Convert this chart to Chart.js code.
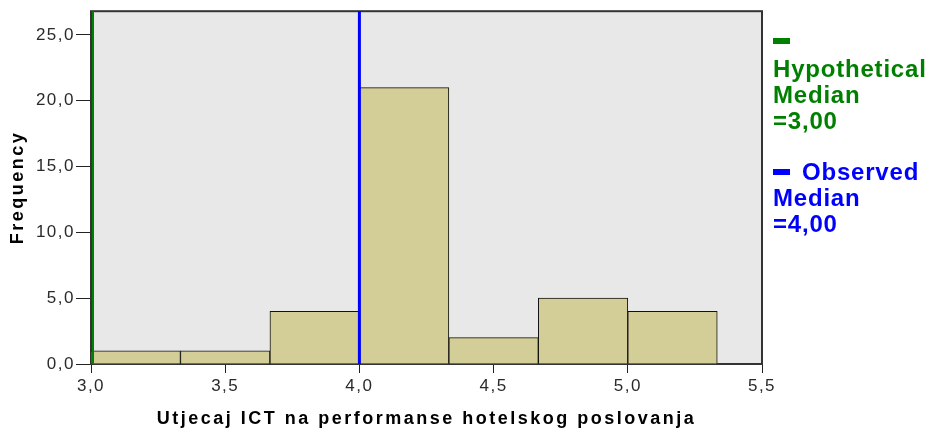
<!DOCTYPE html>
<html>
<head>
<meta charset="utf-8">
<script src="https://cdn.jsdelivr.net/npm/chart.js@4"></script>
<style>
  html, body { margin: 0; padding: 0; background: #ffffff; }
  #wrap { position: relative; width: 932px; height: 432px; }
  #chart { position: absolute; left: 0; top: 0; }
  #legend { position: absolute; left: 773px; top: 30px; font-family: 'Liberation Sans', Arial, sans-serif; font-weight: bold; font-size: 24px; line-height: 26px; letter-spacing: 0.8px; white-space: nowrap; }
  .item { margin-bottom: 25px; }
  .line { height: 26px; }
  .sw { display: inline-block; width: 17px; height: 6px; vertical-align: middle; position: relative; }
</style>
</head>
<body>
<div id="wrap">
  <canvas id="chart" width="932" height="432"></canvas>
  <div id="legend"></div>
</div>
<script>
// ---- data ----
const binEdges = [3.0, 3.3333, 3.6667, 4.0, 4.3333, 4.6667, 5.0, 5.3333];
const frequencies = [1, 1, 4, 21, 2, 5, 4];
const xTicks = [3.0, 3.5, 4.0, 4.5, 5.0, 5.5];
const yTicks = [0, 5, 10, 15, 20, 25];
const yAxisMax = 26.8;
const medianNames = ['Hypothetical Median', 'Observed Median'];
const medianValues = [3.0, 4.0];
const medianColors = ['#008000', '#0000ff'];
const xTitle = 'Utjecaj ICT na performanse hotelskog poslovanja';
const yTitle = 'Frequency';

const fmt = v => v.toFixed(1).replace('.', ',');

const barData = frequencies.map((f, i) => ({ x: (binEdges[i] + binEdges[i + 1]) / 2, y: f }));

const framePlugin = {
  id: 'frame',
  beforeDraw(chart) {
    const { ctx, chartArea: a } = chart;
    ctx.save();
    ctx.fillStyle = '#e8e8e8';
    ctx.fillRect(a.left, a.top, a.right - a.left, a.bottom - a.top);
    ctx.restore();
    // wider bold axis titles (drawn in the grid layer, before datasets)
    ctx.letterSpacing = '2.5px';
  },
  beforeDatasetsDraw(chart) {
    const { ctx, chartArea: a } = chart;
    ctx.letterSpacing = '0px';
    ctx.save();
    ctx.strokeStyle = '#333333';
    ctx.lineWidth = 2;
    ctx.strokeRect(a.left, a.top, a.right - a.left, a.bottom - a.top);
    ctx.restore();
  },
  afterDatasetsDraw(chart) {
    const { ctx, scales } = chart;
    const yTop = scales.y.getPixelForValue(yAxisMax);
    const yBot = scales.y.getPixelForValue(0);
    medianValues.forEach((m, i) => {
      const w = i === 0 ? 2 : 3;
      // hypothetical median sits on the axis line; SPSS draws it just inside the frame
      const x = scales.x.getPixelForValue(m) + (i === 0 ? 2 : 0);
      ctx.save();
      ctx.strokeStyle = medianColors[i];
      ctx.lineWidth = w;
      ctx.beginPath();
      ctx.moveTo(x, yTop);
      ctx.lineTo(x, yBot);
      ctx.stroke();
      ctx.restore();
    });
    // tick labels are drawn after datasets (ticks.z = 1)
    ctx.letterSpacing = '1.5px';
  },
  afterDraw(chart) { chart.ctx.letterSpacing = '0px'; }
};

new Chart(document.getElementById('chart'), {
  type: 'bar',
  data: {
    datasets: [
      {
        data: barData,
        backgroundColor: '#d3ce97',
        borderColor: '#111111',
        borderWidth: 1,
        barPercentage: 1,
        categoryPercentage: 1
      }
    ]
  },
  options: {
    responsive: false,
    animation: false,
    devicePixelRatio: 1,
    layout: { padding: { left: 0, right: 170, top: 10, bottom: 0 } },
    plugins: { legend: { display: false }, tooltip: { enabled: false } },
    scales: {
      x: {
        type: 'linear',
        offset: false,
        min: xTicks[0],
        max: xTicks[xTicks.length - 1],
        afterBuildTicks: s => { s.ticks = xTicks.map(v => ({ value: v })); },
        afterFit: s => { s.height = 68; },
        grid: { offset: false, drawOnChartArea: false, drawTicks: true, tickLength: 9, color: '#222', lineWidth: 1 },
        border: { display: true, color: '#222', width: 1 },
        ticks: { z: 1, padding: 3, color: '#2a2a2a', font: { family: 'Liberation Sans', size: 17 }, callback: v => fmt(v), maxRotation: 0, autoSkip: false },
        title: { display: true, text: xTitle, color: '#000', padding: { top: 0, bottom: 2 }, font: { family: 'Liberation Sans', size: 18, weight: 'bold' } }
      },
      y: {
        type: 'linear',
        min: 0,
        max: yAxisMax,
        afterBuildTicks: s => { s.ticks = yTicks.map(v => ({ value: v })); },
        afterFit: s => { s.width = 91; },
        grid: { drawOnChartArea: false, drawTicks: true, tickLength: 15, color: '#222', lineWidth: 1 },
        border: { display: true, color: '#222', width: 1 },
        ticks: { z: 1, padding: 1, color: '#2a2a2a', font: { family: 'Liberation Sans', size: 17 }, callback: v => fmt(v) },
        title: { display: true, text: yTitle, color: '#000', padding: { top: 7, bottom: 0 }, font: { family: 'Liberation Sans', size: 18, weight: 'bold' } }
      }
    }
  },
  plugins: [framePlugin]
});

// legend as real text
const legend = document.getElementById('legend');
medianNames.forEach((name, i) => {
  const item = document.createElement('div');
  item.className = 'item';
  item.style.color = medianColors[i];
  const words = name.split(' ');
  const valueText = '=' + medianValues[i].toFixed(2).replace('.', ',');
  let html;
  if (i === 0) {
    html = '<div class="line"><span class="sw" style="background:' + medianColors[i] + ';top:-4px"></span></div>' +
           '<div class="line">' + words[0] + '</div>';
  } else {
    html = '<div class="line"><span class="sw" style="background:' + medianColors[i] + ';top:-2px;margin-right:12px"></span>' + words[0] + '</div>';
  }
  html += '<div class="line">' + words[1] + '</div><div class="line">' + valueText + '</div>';
  item.innerHTML = html;
  legend.appendChild(item);
});
</script>
</body>
</html>
